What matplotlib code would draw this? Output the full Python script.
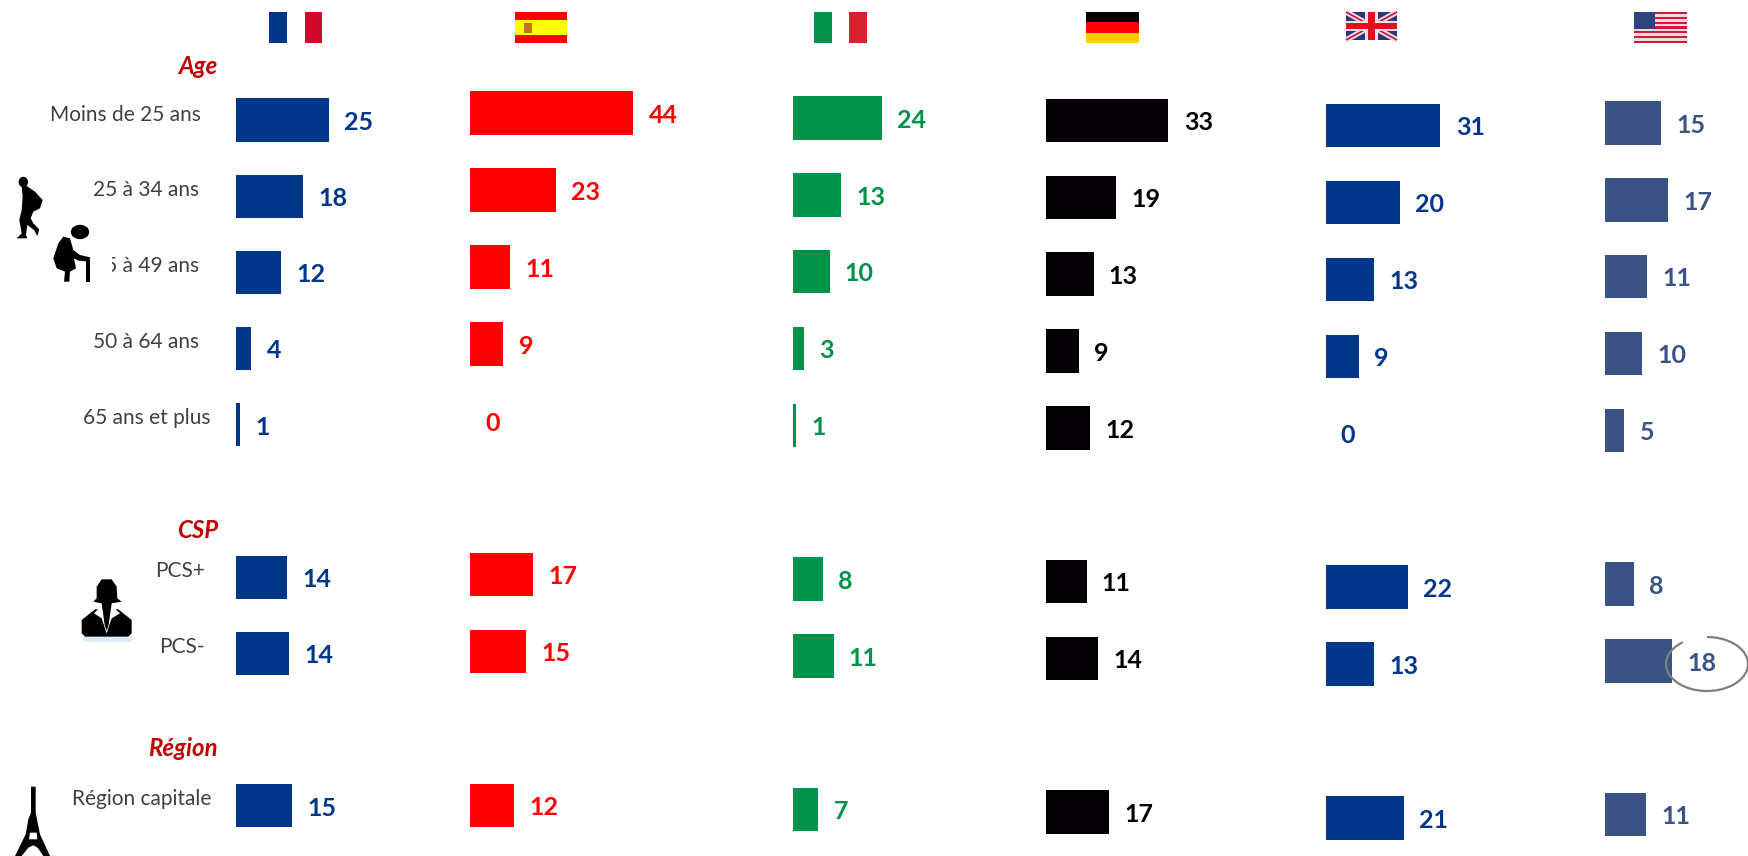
"""Profil par pays : barres horizontales (age, CSP, region) sur six colonnes."""
import numpy as np
import matplotlib
matplotlib.use("Agg")
import matplotlib.pyplot as plt
from matplotlib.patches import Arc, Ellipse, Polygon, Rectangle

W, H = 1749, 856
FONT = ["Lato", "DejaVu Sans"]

rows = [0, 1, 2, 3, 4, 6, 7, 9]
row_labels = ["Moins de 25 ans", "25 à 34 ans", "35 à 49 ans", "50 à 64 ans",
              "65 ans et plus", "PCS+", "PCS-", "Région capitale"]

france = [24.9, 18.0, 12.0, 4.0, 1.0, 13.6, 14.1, 14.9]
espagne = [43.9, 23.0, 10.8, 9.0, 0.0, 17.0, 15.1, 11.9]
italie = [24.0, 13.0, 9.9, 3.0, 0.8, 8.1, 11.0, 6.9]
allemagne = [33.0, 18.9, 12.9, 9.0, 12.0, 11.0, 14.1, 17.1]
royaume_uni = [30.9, 20.0, 13.1, 9.0, 0.0, 22.1, 13.1, 21.0]
etats_unis = [15.0, 16.9, 11.1, 9.9, 5.1, 7.6, 18.0, 11.0]

SCALE = 3.72   # pixels par point
PANELS = [
    (france, 236.5, 120, 76.2, "#00368A"),
    (espagne, 470, 113, 76.95, "#FF0000"),
    (italie, 792.7, 118, 76.85, "#00914A"),
    (allemagne, 1045.6, 120.5, 76.85, "#040006"),
    (royaume_uni, 1325.5, 125.5, 76.95, "#00368A"),
    (etats_unis, 1605.5, 123, 76.85, "#3B5384"),
]

plt.rcParams["font.family"] = FONT
fig = plt.figure(figsize=(W / 100, H / 100), dpi=100, facecolor="white")

for vals, x0, yc, pitch, col in PANELS:
    width = 200
    ax = fig.add_axes([x0 / W, 0, width / W, 1])
    ax.set_xlim(0, width / SCALE)
    ax.set_ylim((H - yc) / pitch, -yc / pitch)
    ax.axis("off")
    ax.barh(rows, vals, height=0.565, color=col, clip_on=False)
    tcol = "#000000" if col == "#040006" else col
    for r, v in zip(rows, vals):
        ax.annotate(f"{v:.0f}", (v, r), xytext=(11, -1.6), textcoords="offset points",
                    va="center", ha="left", fontsize=18, fontweight="bold",
                    color=tcol, annotation_clip=False)

# calque en pixels pour drapeaux, pictos et libelles
ov = fig.add_axes([0, 0, 1, 1], zorder=5)
ov.set_xlim(0, W)
ov.set_ylim(H, 0)
ov.axis("off")
ov.patch.set_alpha(0)


def rect(x0, y0, x1, y1, color, z=2):
    ov.add_patch(Rectangle((x0, y0), x1 - x0, y1 - y0, color=color, lw=0, zorder=z))


def shape(pts, ox, oy, color="black", z=3):
    xy = [(x / 3 + ox, y / 3 + oy) for x, y in pts]
    ov.add_patch(Polygon(xy, color=color, lw=0, zorder=z))


def flags():
    # France
    rect(269, 12, 287, 43, "#00368A")
    rect(305, 12, 322, 43, "#CE0A2C")
    # Espagne
    rect(515, 12, 567, 43, "#FF0000")
    rect(515, 20, 567, 35, "#FFFF00")
    rect(524, 23, 532, 33, "#C8701E")
    # Italie
    rect(814, 12, 832, 43, "#00914A")
    rect(849, 12, 867, 43, "#D2232E")
    # Allemagne
    rect(1086, 12, 1139, 22, "#000000")
    rect(1086, 22, 1139, 33, "#FF0000")
    rect(1086, 33, 1139, 43, "#FFCC00")
    # Royaume-Uni
    rect(1346, 12, 1397, 40, "#2A3A78")
    for a, b in [((1346, 12), (1397, 40)), ((1346, 40), (1397, 12))]:
        ov.plot(*zip(a, b), color="#F0DCE6", lw=4, solid_capstyle="butt", zorder=2.2)
        ov.plot(*zip(a, b), color="#D0103A", lw=1.2, solid_capstyle="butt", zorder=2.3)
    rect(1365, 12, 1378, 40, "#F0DCE6", 2.4)
    rect(1346, 21, 1397, 31, "#F0DCE6", 2.4)
    rect(1368, 12, 1375, 40, "#E0101E", 2.5)
    rect(1346, 23, 1397, 29, "#E0101E", 2.5)
    # Etats-Unis
    rect(1634, 12, 1687, 43, "#F4D8DC")
    for y in np.arange(12, 43, 4.77):
        rect(1634, y, 1687, y + 2.38, "#CF1A3C", 2.1)
    rect(1634, 12, 1655, 29, "#2E4480", 2.2)


def pictos():
    # randonneur
    ov.add_patch(Ellipse((23.3, 182), 8, 9, color="black", zorder=3))
    shape([(35, 50), (50, 48), (75, 65), (98, 90), (90, 115), (70, 125), (62, 145), (70, 160),
           (88, 178), (82, 198), (72, 180), (52, 165), (48, 195), (52, 205), (20, 205),
           (35, 190), (28, 150), (35, 120), (38, 80)], 10, 170)
    # dame a la canne, fond blanc qui masque le libelle
    rect(52, 218, 112, 285, "white", 2.6)
    ov.add_patch(Ellipse((80, 232), 17, 13, color="black", zorder=3))
    shape([(160, 200), (180, 205), (190, 240), (210, 255), (240, 262), (240, 275), (205, 272),
           (192, 265), (198, 295), (180, 305), (178, 335), (162, 335), (165, 305), (140, 295),
           (130, 265), (145, 220)], 10, 170)
    rect(86, 258, 90, 282, "black", 3)
    # femme cadre
    shape([(40, 200), (185, 200), (185, 215), (40, 215)], 70, 570, "#DCEBF8", 2.6)
    shape([(35, 150), (75, 118), (145, 118), (185, 150), (185, 190), (175, 200), (45, 200),
           (35, 190)], 70, 570)
    shape([(72, 130), (90, 112), (130, 112), (150, 130), (125, 145), (110, 190), (95, 145)],
          70, 570, "white", 3.1)
    shape([(80, 50), (95, 28), (125, 28), (140, 50), (142, 85), (155, 95), (125, 100),
           (116, 165), (110, 182), (104, 165), (95, 100), (70, 95), (80, 85)], 70, 570, "black", 3.2)
    # tour Eiffel
    shape([(78, 32), (92, 32), (92, 110), (100, 150), (105, 175), (135, 240), (115, 240),
           (98, 215), (85, 208), (70, 215), (50, 240), (30, 240), (62, 175), (70, 130), (78, 110)],
          5, 776)
    shape([(75, 170), (95, 170), (97, 190), (72, 190)], 5, 776, "white", 3.1)


flags()
pictos()

label_right = [201, 199, 199, 199, 211, 205, 205, 211]
label_y = [115, 190, 266, 342, 418, 571, 647, 799]
for txt, x, y in zip(row_labels, label_right, label_y):
    ov.text(x, y, txt, ha="right", va="center", fontsize=15, color="#404040", zorder=2.5)

sections = ["Age", "CSP", "Région"]
section_y = [66, 530, 748]
for txt, y in zip(sections, section_y):
    ov.text(218, y, txt, ha="right", va="center", fontsize=17.3, fontweight="bold",
            fontstyle="italic", color="#C00000")

# cercle autour du 18 (Etats-Unis, PCS-)
ov.add_patch(Arc((1707, 664), 82, 54, theta1=-90, theta2=222, color="#7F7F7F", lw=1.6, zorder=4))

fig.savefig("out.png", dpi=100)
